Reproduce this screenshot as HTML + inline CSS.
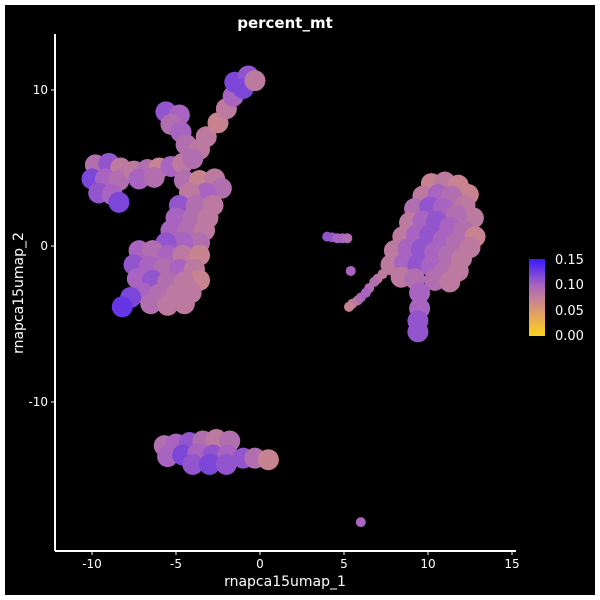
<!DOCTYPE html>
<html><head><meta charset="utf-8"><style>
body{margin:0;background:#fff}
svg{display:block}
text{font-family:"DejaVu Sans","Liberation Sans",sans-serif;fill:#fff}
</style></head><body>
<svg id="chart" width="600" height="600">
<defs><linearGradient id="cg" x1="0" y1="1" x2="0" y2="0">
<stop offset="0" stop-color="#ffd21a"/><stop offset="0.33" stop-color="#dc9a70"/><stop offset="0.66" stop-color="#a864c0"/><stop offset="1" stop-color="#3a18ff"/></linearGradient></defs>
<rect x="5" y="5" width="590" height="590" fill="#000"/>
<text x="285" y="28" font-size="15" font-weight="bold" text-anchor="middle">percent_mt</text>
<g id="points"></g>
<g id="axes"></g>
<g>
<rect x="529" y="259" width="16" height="77" fill="url(#cg)"/>
<text x="555" y="264" font-size="13">0.15</text>
<text x="555" y="289" font-size="13">0.10</text>
<text x="555" y="315" font-size="13">0.05</text>
<text x="555" y="340" font-size="13">0.00</text>
</g>
</svg>
<script>
const xTicks=[-10,-5,0,5,10,15];
const yTicks=[10,0,-10];
const points=[
[-9.8,5.2,.09],[-9,5.3,.11],[-8.3,5.0,.08],[-10,4.3,.12],[-9.2,4.3,.1],[-8.4,4.2,.09],[-9.6,3.4,.11],[-8.8,3.3,.1],[-8.4,2.8,.12],
[-7.5,4.8,.08],[-6.7,4.9,.09],[-6,5.0,.07],[-5.3,5.1,.1],[-4.6,5.3,.08],[-7.2,4.3,.1],[-6.3,4.4,.09],
[-4.5,4.2,.09],[-3.6,4.2,.07],[-2.7,4.3,.08],[-2.3,3.7,.09],[-3.2,3.4,.1],[-4.2,3.4,.08],[-4.8,2.6,.11],[-3.8,2.6,.09],[-2.8,2.6,.08],[-5,1.8,.1],[-4,1.8,.09],[-3.1,1.8,.08],[-5.3,1,.1],[-4.3,1,.09],[-3.3,1,.08],[-3.6,0.2,.09],[-4.6,0.2,.1],[-5.6,0.2,.11],
[-7.2,-0.3,.1],[-6.4,-0.3,.09],[-5.5,-0.6,.1],[-4.6,-0.6,.08],[-3.6,-0.6,.07],[-7.5,-1.2,.11],[-6.6,-1.3,.1],[-5.7,-1.4,.09],[-4.8,-1.5,.1],[-3.9,-1.5,.08],[-3.6,-2.2,.07],[-7.3,-2.1,.1],[-6.4,-2.2,.11],[-5.5,-2.3,.09],[-4.5,-2.3,.08],[-7,-3,.1],[-6,-3.1,.09],[-5,-3.1,.08],[-4.1,-3,.08],[-6.5,-3.7,.09],[-5.5,-3.8,.08],[-4.5,-3.7,.08],[-7.7,-3.3,.12],[-8.2,-3.9,.13],
[-5.6,8.6,.11],[-4.8,8.4,.1],[-5.3,7.8,.09],[-4.7,7.3,.1],[-4.4,6.5,.09],[-3.6,6.2,.08],[-4.0,5.6,.09],[-3.2,7.0,.08],[-2.5,7.9,.07],[-2.0,8.8,.08],[-1.6,9.6,.1],[-1.5,10.5,.12],[-0.7,10.9,.11],[-1.0,10.1,.12],[-0.3,10.6,.08],
[-5.7,-12.8,.09],[-5,-12.7,.1],[-4.2,-12.6,.11],[-3.4,-12.5,.09],[-2.6,-12.4,.08],[-1.8,-12.5,.09],[-5.5,-13.5,.1],[-4.6,-13.4,.12],[-3.7,-13.3,.1],[-2.8,-13.4,.11],[-1.9,-13.4,.1],[-1,-13.6,.11],[-4,-14,.11],[-3,-14,.12],[-2,-14,.11],[-0.3,-13.6,.09],[0.5,-13.7,.07],
[10.2,4.0,.07],[11.0,4.1,.08],[11.8,3.9,.07],[12.4,3.3,.07],[9.7,3.2,.08],[10.6,3.3,.1],[11.4,3.2,.09],[12.2,2.6,.08],[12.7,1.8,.08],[9.2,2.4,.09],[10.1,2.5,.11],[10.9,2.4,.1],[11.7,2.0,.09],[8.9,1.5,.08],[9.7,1.6,.1],[10.5,1.6,.11],[11.3,1.2,.1],[12.1,1.0,.09],[12.8,0.6,.07],[8.5,0.6,.08],[9.3,0.7,.1],[10.1,0.7,.11],[10.9,0.4,.1],[11.7,0.2,.09],[12.5,-0.1,.08],[8.0,-0.3,.08],[8.8,-0.2,.1],[9.6,-0.2,.11],[10.4,-0.4,.1],[11.2,-0.6,.09],[12,-0.8,.08],[7.8,-1.2,.08],[8.6,-1.1,.1],[9.4,-1.2,.11],[10.2,-1.3,.1],[11,-1.6,.09],[11.8,-1.6,.08],[8.4,-2,.08],[9.2,-2.1,.09],[10.4,-2.2,.09],[11.3,-2.3,.08],[9.5,-3,.1],[9.5,-4.0,.1],[9.4,-4.8,.11],[9.4,-5.5,.11],
[7.3,-1.8,.08],[7.0,-2.1,.08],[6.8,-2.3,.09],[6.5,-2.7,.09],[6.3,-3,.1],[6.0,-3.3,.1],[5.8,-3.5,.09],[5.5,-3.7,.08],[5.3,-3.9,.07],
[4.0,0.6,.11],[4.3,0.55,.11],[4.6,0.5,.1],[4.9,0.5,.1],[5.2,0.5,.09],[5.4,-1.6,.1],[6,-17.7,.1]
];
const smallCount=16;
const X=v=>260+v*16.8, Y=v=>246-v*15.6;
const stops=[[0,[255,210,26]],[0.05,[220,154,112]],[0.1,[168,100,192]],[0.15,[58,24,255]]];
function col(v){v=Math.max(0,Math.min(0.15,v));for(let i=0;i<3;i++){const a=stops[i],b=stops[i+1];if(v<=b[0]){const t=(v-a[0])/(b[0]-a[0]);return 'rgb('+a[1].map((c,k)=>Math.round(c+(b[1][k]-c)*t)).join(',')+')';}}return 'rgb(58,24,255)';}
const NS='http://www.w3.org/2000/svg';
const g=document.getElementById('points');
points.forEach((p,i)=>{const c=document.createElementNS(NS,'circle');
c.setAttribute('cx',X(p[0]));c.setAttribute('cy',Y(p[1]));
c.setAttribute('r',i>=points.length-smallCount?5:10.5);
c.setAttribute('fill',col(p[2]));


g.appendChild(c);});
const ax=document.getElementById('axes');
function mk(tag,attrs,txt){const e=document.createElementNS(NS,tag);for(const k in attrs)e.setAttribute(k,attrs[k]);if(txt!==undefined)e.textContent=txt;ax.appendChild(e);return e;}
let e=mk('line',{x1:55,y1:34,x2:55,y2:551,stroke:'#fff','stroke-width':2});


e=mk('line',{x1:55,y1:551,x2:516,y2:551,stroke:'#fff','stroke-width':2});


xTicks.forEach(t=>{const l=mk('line',{x1:X(t),x2:X(t),y1:551,y2:555,stroke:'#fff'});


const s=mk('text',{x:X(t),y:568,'font-size':12,'text-anchor':'middle'},t);

});
yTicks.forEach(t=>{const l=mk('line',{x1:51,x2:55,y1:Y(t),y2:Y(t),stroke:'#fff'});


const s=mk('text',{x:48,y:Y(t)+4,'font-size':12,'text-anchor':'end'},t);

});
e=mk('text',{x:285,y:586,'font-size':14,'text-anchor':'middle'},'rnapca15umap_1');


e=mk('text',{x:23,y:293,'font-size':14,'text-anchor':'middle',transform:'rotate(-90 23 293)'},'rnapca15umap_2');


</script>
</body></html>
